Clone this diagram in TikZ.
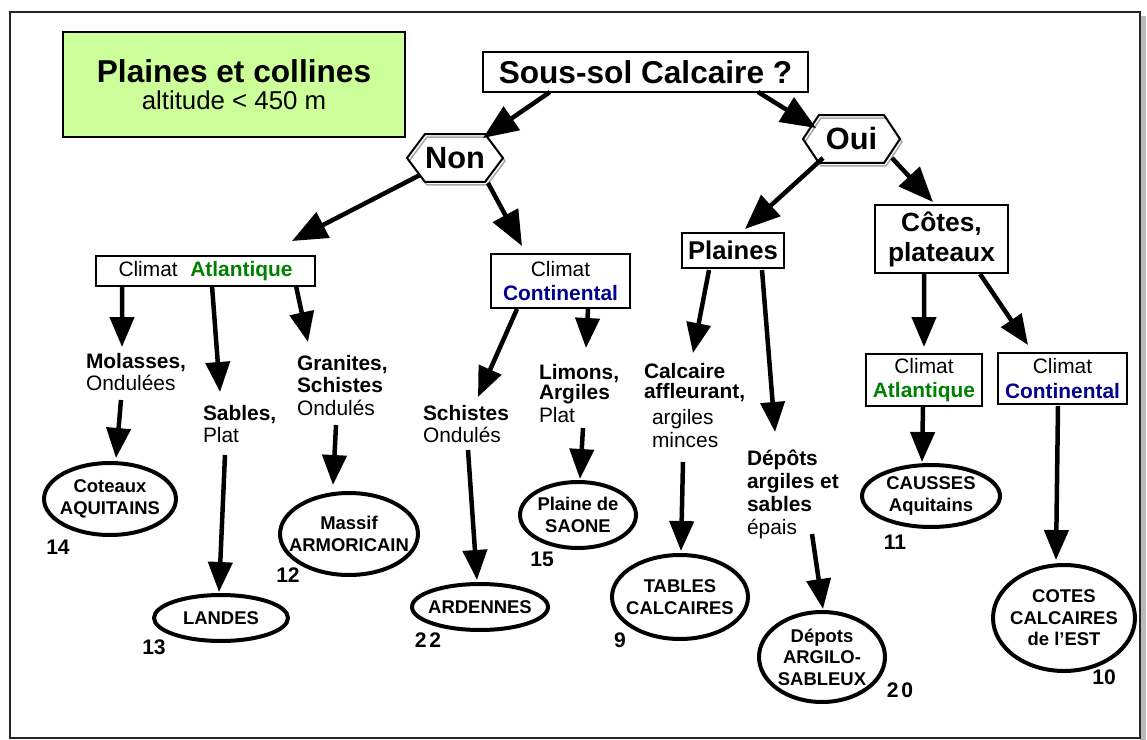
\documentclass[tikz,border=0pt]{standalone}
\usepackage{fontspec}
\setmainfont{Liberation Sans}
\usetikzlibrary{arrows.meta,calc,shapes.geometric}
\definecolor{atlgreen}{RGB}{0,128,0}
\definecolor{contblue}{RGB}{0,0,140}
\definecolor{boxgreen}{RGB}{204,255,153}
\newcommand\zb[1]{\makebox[0pt]{#1}}
\newcommand\hexa[2]{%
  \draw[line width=0.03cm, gray!70] ([shift={(2,3)}]#1.west) -- ([shift={(#2+2,3)}]#1.north west) -- ([shift={(-#2+2,3)}]#1.north east) -- ([shift={(2,3)}]#1.east) -- ([shift={(-#2+2,3)}]#1.south east) -- ([shift={(#2+2,3)}]#1.south west) -- cycle;
  \draw[line width=0.04cm, line join=miter] (#1.west) -- ([shift={(#2,0)}]#1.north west) -- ([shift={(-#2,0)}]#1.north east) -- (#1.east) -- ([shift={(-#2,0)}]#1.south east) -- ([shift={(#2,0)}]#1.south west) -- cycle;
}
\begin{document}
\begin{tikzpicture}[x=0.02cm,y=-0.02cm,
 box/.style={draw, line width=0.04cm, inner sep=0pt, outer sep=0pt, align=center},
 hexn/.style={inner sep=0pt, outer sep=0pt, minimum height=0.96cm, font=\fontsize{17.5}{20}\selectfont\bfseries},
 ell/.style={ellipse, draw, line width=0.08cm, inner sep=0pt, outer sep=0pt, align=center, font=\fontsize{10.5}{12.2}\selectfont\bfseries},
 lbl/.style={anchor=north west, inner sep=0pt, outer sep=0pt, align=left, font=\fontsize{11.9}{13}\selectfont},
 num/.style={inner sep=0pt, font=\fontsize{12}{14}\selectfont\bfseries},
 arr/.style={line width=0.09cm, -{Triangle[length=0.6cm,width=0.48cm]}},
 barr/.style={line width=0.09cm, -{Triangle[length=0.7cm,width=0.56cm]}},
 clim/.style={box, font=\fontsize{11.9}{13.8}\selectfont}
]
\useasboundingbox (0,0) rectangle (1147,740);
% frame
\fill[gray!55] (1140,16) rectangle (1146,740);
\draw[line width=0.04cm, black!85] (10,12) rectangle (1140,738);

% boxes
\node[box, fill=boxgreen, line width=0.03cm, minimum width=6.84cm, minimum height=2.1cm, font=\fontsize{14.7}{15.3}\selectfont] (titre) at (234,84.5) {{\fontsize{18}{15.3}\selectfont\bfseries Plaines et collines}\\altitude < 450 m};
\node[box, minimum width=6.5cm, minimum height=0.8cm, font=\fontsize{18}{20}\selectfont\bfseries] (sous) at (645.5,72) {Sous-sol Calcaire ?};

\node[hexn, minimum width=1.92cm] (non) at (455,158) {Non};
\node[hexn, minimum width=1.94cm] (oui) at (851.5,139) {Oui};
\hexa{non}{18}
\hexa{oui}{16}

\node[clim, minimum width=4.38cm, minimum height=0.6cm] (catl) at (205.5,271) {Climat\hspace{0.6em}\textcolor{atlgreen}{\bfseries Atlantique}};
\node[clim, minimum width=2.78cm, minimum height=1.08cm] (ccont) at (560.5,281) {Climat\\\textcolor{contblue}{\bfseries Continental}};
\node[box, minimum width=2.04cm, minimum height=0.7cm, font=\fontsize{14.6}{17}\selectfont\bfseries] (plaines) at (733,250.5) {Plaines};
\node[box, minimum width=2.66cm, minimum height=1.36cm, font=\fontsize{15}{17}\selectfont\bfseries] (cotes) at (941.5,239) {Côtes,\\plateaux};
\node[clim, minimum width=2.32cm, minimum height=1.04cm] (ratl) at (924,380) {Climat\\\textcolor{atlgreen}{\bfseries Atlantique}};
\node[clim, minimum width=2.58cm, minimum height=1.02cm] (rcont) at (1062.5,378.5) {Climat\\\textcolor{contblue}{\bfseries Continental}};

% labels
\node[lbl] (molasses) at (86,353) {{\bfseries Molasses,}\\Ondulées};
\node[lbl] (sables) at (203,405) {{\bfseries Sables,}\\Plat};
\node[lbl] (granites) at (297,355) {{\bfseries Granites,}\\{\bfseries Schistes}\\Ondulés};
\node[lbl] (schistes) at (423,405) {{\bfseries Schistes}\\Ondulés};
\node[lbl] (limons) at (539,364) {{\bfseries Limons,}\\[-1.6pt]{\bfseries Argiles}\\[0.3pt]Plat};
\node[lbl] (calcaire) at (644,363) {{\bfseries Calcaire}\\[-1.6pt]{\bfseries affleurant,}\\[2pt]\hspace*{0.16cm}argiles\\\hspace*{0.16cm}minces};
\node[lbl] (depots) at (747,450) {{\bfseries Dépôts}\\{\bfseries argiles et}\\{\bfseries sables}\\épais};

% ellipses
\node[ell, minimum width=2.64cm, minimum height=1.44cm] (coteaux) at (110,499) {\zb{Coteaux}\\\zb{AQUITAINS}};
\node[ell, minimum width=2.76cm, minimum height=1.64cm] (massif) at (349,534) {\zb{Massif}\\\zb{ARMORICAIN}};
\node[ell, minimum width=2.68cm, minimum height=0.92cm] (landes) at (221,618) {\zb{LANDES}};
\node[ell, minimum width=2.72cm, minimum height=0.92cm] (ardennes) at (480,607) {\zb{ARDENNES}};
\node[ell, minimum width=2.32cm, minimum height=1.32cm] (saone) at (578,515) {\zb{Plaine de}\\\zb{SAONE}};
\node[ell, minimum width=2.72cm, minimum height=1.68cm] (tables) at (680,597) {\zb{TABLES}\\\zb{CALCAIRES}};
\node[ell, minimum width=2.52cm, minimum height=1.8cm] (argilo) at (822,657) {\zb{Dépots}\\\zb{ARGILO-}\\\zb{SABLEUX}};
\node[ell, minimum width=2.76cm, minimum height=1.24cm] (causses) at (931,496) {\zb{CAUSSES}\\\zb{Aquitains}};
\node[ell, minimum width=2.84cm, minimum height=2.12cm] (cotesest) at (1064,618) {\zb{COTES}\\\zb{CALCAIRES}\\\zb{de l’EST}};

% numbers
\node[num] (n14) at (58,547) {14};
\node[num] (n12) at (288,575) {12};
\node[num] (n13) at (154,647) {13};
\node[num] (n22) at (428,640) {2\kern1.5pt 2};
\node[num] (n15) at (542,559) {15};
\node[num] (n9) at (620,640) {9};
\node[num] (n20) at (900,690) {2\kern1.5pt 0};
\node[num] (n11) at (895,542) {11};
\node[num] (n10) at (1104,677) {10};

% connectors
\draw[barr] ($(sous.south)+(-95.5,0)$) -- ($(non.north east)+(-20,4)$);
\draw[barr] ($(sous.south)+(112.5,0)$) -- ($(oui.north west)+(13,13)$);
\draw[barr] ($(non.south west)+(13,-7)$) -- ($(catl.north east)+(-23,-15)$);
\draw[barr] ($(non.south east)+(-15,1)$) -- ($(ccont.north west)+(31,-8)$);
\draw[barr] ($(oui.south west)+(20,-5)$) -- ($(plaines.north)+(12,-4)$);
\draw[barr] ($(oui.south east)+(-8,-5)$) -- ($(cotes.north)+(-8.5,-3)$);

\draw[arr] ($(catl.south west)+(26,0)$) -- ($(molasses.north west)+(36,-6)$);
\draw[arr] ($(catl.south west)+(116,0)$) -- ($(sables.north west)+(17,-13)$);
\draw[arr] ($(catl.south west)+(200,0)$) -- ($(granites.north west)+(11,-13)$);
\draw[arr] ($(ccont.south west)+(26,1)$) -- ($(schistes.north west)+(55,-8)$);
\draw[arr] ($(ccont.south west)+(97,1)$) -- ($(limons.north west)+(47,-16)$);
\draw[arr] ($(plaines.south west)+(27,2)$) -- ($(calcaire.north west)+(49,-10)$);
\draw[arr] ($(plaines.south west)+(80,2)$) -- ($(depots.north west)+(28,-18)$);
\draw[arr] ($(cotes.south west)+(49,1)$) -- ($(ratl.north)+(0,-7)$);
\draw[arr] ($(cotes.south west)+(105,1)$) -- ($(rcont.north west)+(30,-8)$);

\draw[arr] ($(molasses.north west)+(35,47)$) -- ($(coteaux.north)+(6,-5)$);
\draw[arr] ($(sables.north west)+(22,50)$) -- ($(landes.north)+(-2,-3)$);
\draw[arr] ($(granites.north west)+(39,70)$) -- ($(massif.north)+(-16,-8)$);
\draw[arr] ($(schistes.north west)+(45,45)$) -- ($(ardennes.north)+(-3,-4)$);
\draw[arr] ($(limons.north west)+(44,64)$) -- ($(saone.north)+(2,-3)$);
\draw[arr] ($(calcaire.north west)+(39,99)$) -- ($(tables.north)+(1,-4)$);
\draw[arr] ($(depots.north west)+(65,84)$) -- ($(argilo.north)+(1,-3)$);
\draw[arr] ($(ratl.south)+(-1,1)$) -- ($(causses.north)+(-9,-3)$);
\draw[arr] ($(rcont.south)+(-4.5,2)$) -- ($(cotesest.north)+(-8,-5)$);
\end{tikzpicture}
\end{document}
